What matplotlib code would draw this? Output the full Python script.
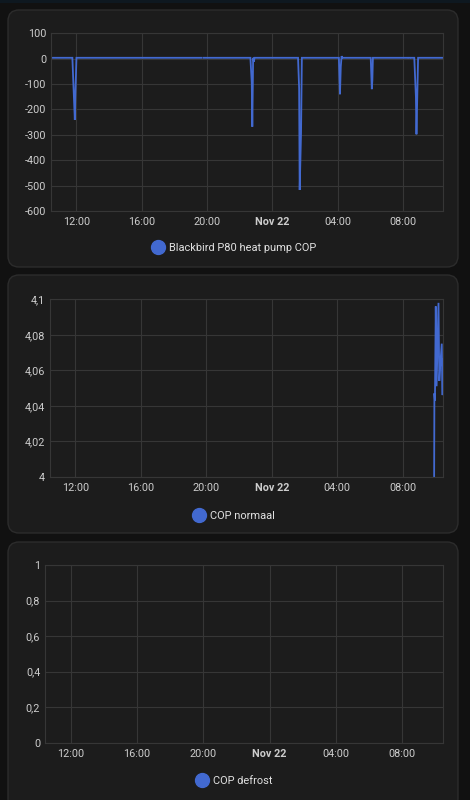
import matplotlib
matplotlib.use("Agg")
import matplotlib.pyplot as plt
from matplotlib.patches import FancyBboxPatch
from matplotlib.lines import Line2D
from matplotlib.transforms import IdentityTransform
from matplotlib.ticker import FuncFormatter
import numpy as np
import pandas as pd

plt.rcParams['font.family'] = ['Roboto', 'DejaVu Sans']

# --- data ---
# Blackbird P80 heat pump COP (NaN = gap in history)
cop_times = [
    "2023-11-21 10:27", "2023-11-21 11:46", "2023-11-21 11:55", "2023-11-21 11:57",
    "2023-11-21 12:01", "2023-11-21 19:41", "2023-11-21 19:45", "2023-11-21 19:49",
    "2023-11-21 22:40", "2023-11-21 22:45", "2023-11-21 22:47", "2023-11-21 22:50",
    "2023-11-21 22:53", "2023-11-21 22:55", "2023-11-22 01:35", "2023-11-22 01:39",
    "2023-11-22 01:41", "2023-11-22 01:46", "2023-11-22 01:49", "2023-11-22 04:05",
    "2023-11-22 04:09", "2023-11-22 04:12", "2023-11-22 04:15", "2023-11-22 04:18",
    "2023-11-22 06:02", "2023-11-22 06:06", "2023-11-22 06:08", "2023-11-22 06:10",
    "2023-11-22 08:16", "2023-11-22 08:19", "2023-11-22 08:22", "2023-11-22 08:24",
    "2023-11-22 08:27", "2023-11-22 08:30", "2023-11-22 08:42", "2023-11-22 08:48",
    "2023-11-22 08:50", "2023-11-22 08:56", "2023-11-22 10:27",
]
cop_values = [
    3.5, 3.5, -241, -143,
    3.5, 3.5, np.nan, 3.5,
    3.5, -95, -268, 3.5,
    -12, 3.5, 3.5, -117,
    -517, -293, 3.5, 3.5,
    -140, -31, 10, 3.5,
    3.5, -120, -85, 3.5,
    3.5, np.nan, 3.5, 3.5,
    np.nan, 3.5, 3.5, -150,
    -298, 3.5, 3.5,
]

# COP normaal
normaal_times = [
    "2023-11-22 09:55", "2023-11-22 09:56", "2023-11-22 09:58", "2023-11-22 10:01",
    "2023-11-22 10:04", "2023-11-22 10:11", "2023-11-22 10:14", "2023-11-22 10:17",
    "2023-11-22 10:23", "2023-11-22 10:26", "2023-11-22 10:27",
]
normaal_values = [4.000, 4.047, 4.043, 4.096, 4.051, 4.098, 4.054, 4.062, 4.075, 4.046, 4.066]

# COP defrost
defrost_times = ["2023-11-22 10:26", "2023-11-22 10:27"]
defrost_values = [0, 0]

tick_times = ["2023-11-21 12:00", "2023-11-21 16:00", "2023-11-21 20:00",
              "2023-11-22 00:00", "2023-11-22 04:00", "2023-11-22 08:00"]
tick_labels = ["12:00", "16:00", "20:00", "Nov 22", "04:00", "08:00"]

x_start = "2023-11-21 10:27:30"
x_end = "2023-11-22 10:27:30"

# --- styling ---
W, H = 470, 800
BG = '#111111'
CARD = '#1c1c1c'
CARD_EDGE = '#2c2c2c'
GRID = '#363636'
BLUE = '#4269d0'
TICK_COLOR = '#cccccc'
TEXT_COLOR = '#e1e1e1'

fig = plt.figure(figsize=(W / 100, H / 100), dpi=100, facecolor=BG)

# thin dark-blue strip at the very top of the page
fig.add_artist(plt.Rectangle((0, H - 3), W, 3, transform=IdentityTransform(),
                             facecolor='#0e1820', edgecolor='none', zorder=-20))


def add_card(x0, y0, x1, y1):
    card = FancyBboxPatch((x0, H - y1), x1 - x0, y1 - y0,
                          boxstyle='round,pad=0,rounding_size=11',
                          transform=IdentityTransform(),
                          facecolor=CARD, edgecolor=CARD_EDGE, linewidth=1,
                          zorder=-10)
    fig.add_artist(card)


def comma_fmt(v, pos):
    s = f"{v:.2f}".rstrip('0').rstrip('.')
    if s == '-0':
        s = '0'
    return s.replace('.', ',')


def add_panel(box, times, values, ylim, yticks, legend_label, legend_y):
    x0, y0, x1, y1 = box
    ax = fig.add_axes([x0 / W, 1 - y1 / H, (x1 - x0) / W, (y1 - y0) / H])
    ax.set_facecolor('none')
    t = pd.to_datetime(times)
    ax.plot(t, values, color=BLUE, linewidth=1.3, solid_joinstyle='miter')
    ax.set_xlim(pd.Timestamp(x_start), pd.Timestamp(x_end))
    ax.set_ylim(*ylim)
    ax.set_yticks(yticks)
    ax.yaxis.set_major_formatter(FuncFormatter(comma_fmt))
    ax.set_xticks(pd.to_datetime(tick_times), tick_labels)
    for lab in ax.get_xticklabels():
        if lab.get_text() == "Nov 22":
            lab.set_fontweight('bold')
            lab.set_color(TEXT_COLOR)
    ax.grid(True, color=GRID, linewidth=0.8)
    ax.set_axisbelow(True)
    for sp in ax.spines.values():
        sp.set_color(GRID)
        sp.set_linewidth(0.8)
    ax.tick_params(length=0, labelsize=7.8, colors=TICK_COLOR)
    ax.tick_params(axis='y', pad=3.5)
    ax.tick_params(axis='x', pad=4.5)

    handle = Line2D([], [], marker='o', linestyle='', color=BLUE, markersize=10)
    fig.legend([handle], [legend_label], loc='center',
               bbox_to_anchor=(233.5 / W, 1 - legend_y / H),
               frameon=False, fontsize=7.9, labelcolor=TEXT_COLOR,
               handletextpad=0.3, handlelength=1.4, borderpad=0)
    return ax


add_card(8, 10, 458, 267)
add_card(8, 275, 458, 533)
add_card(8, 542, 458, 810)

add_panel((51, 33.3, 443, 211), cop_times, cop_values, (-600, 100),
          np.arange(-600, 101, 100), "Blackbird P80 heat pump COP", 248)
add_panel((50, 299.3, 443, 476.7), normaal_times, normaal_values, (4.0, 4.1),
          [4.0, 4.02, 4.04, 4.06, 4.08, 4.1], "COP normaal", 515.7)
add_panel((45, 565, 443, 742.7), defrost_times, defrost_values, (0, 1),
          [0, 0.2, 0.4, 0.6, 0.8, 1.0], "COP defrost", 780.7)

fig.savefig("out.png", dpi=100, facecolor=BG)
